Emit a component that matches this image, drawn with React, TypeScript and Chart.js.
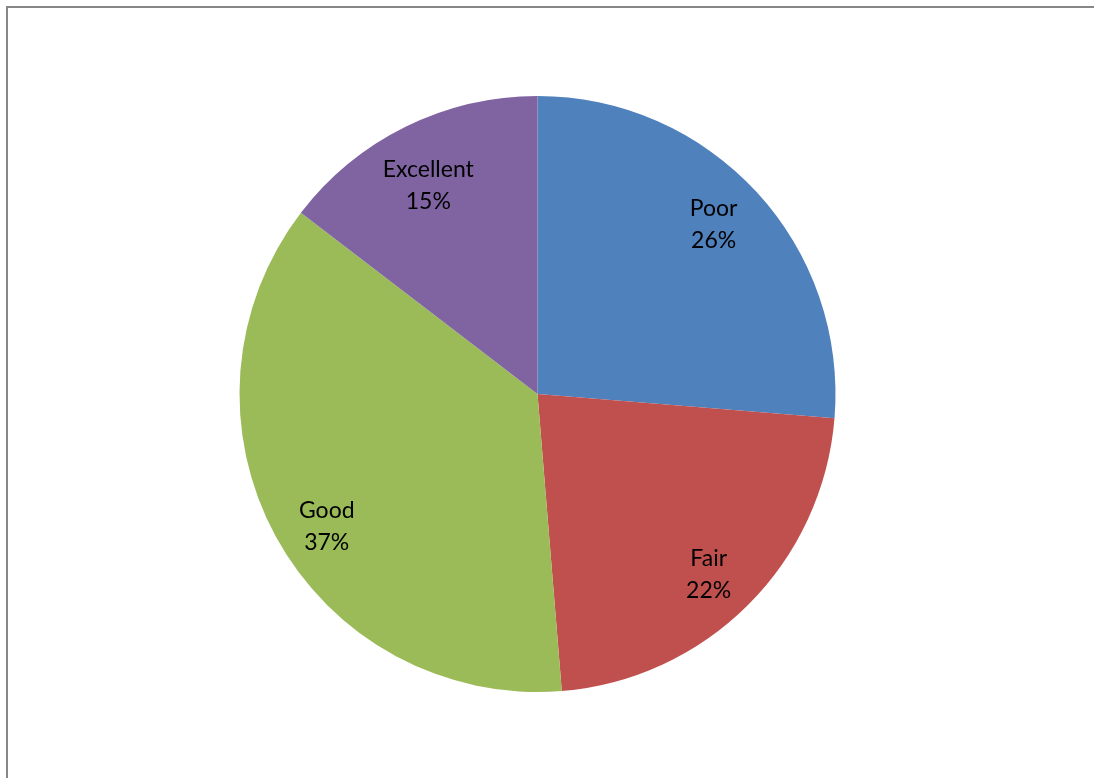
import React, { useEffect, useRef } from "react";
import { Chart, registerables } from "chart.js";

Chart.register(...registerables);

const categories = ["Poor", "Fair", "Good", "Excellent"];
const values = [26.3, 22.4, 36.7, 14.6];
const colors = ["#4F81BD", "#C0504D", "#9BBB59", "#8064A2"];
// label placement: fraction of radius and angle tweak (degrees) per slice
const labelDist = [0.821, 0.836, 0.836, 0.789];
const labelAngleShift = [-1.3, 1.6, -3.6, -1.4];

const labelPlugin = {
  id: "sliceLabels",
  afterDatasetsDraw(chart: any) {
    const ctx = chart.ctx;
    const meta = chart.getDatasetMeta(0);
    const total = values.reduce((a, b) => a + b, 0);
    ctx.save();
    ctx.fillStyle = "#000";
    ctx.font = "23px Lato";
    ctx.textAlign = "center";
    ctx.textBaseline = "middle";
    meta.data.forEach((arc: any, i: number) => {
      const { x, y, startAngle, endAngle, outerRadius } = arc.getProps(
        ["x", "y", "startAngle", "endAngle", "outerRadius"],
        true
      );
      const mid = (startAngle + endAngle) / 2 + (labelAngleShift[i] * Math.PI) / 180;
      const d = outerRadius * labelDist[i];
      const cx = x + Math.cos(mid) * d;
      const cy = y + Math.sin(mid) * d;
      const pct = Math.round((values[i] / total) * 100) + "%";
      ctx.fillText(categories[i], cx, cy - 16);
      ctx.fillText(pct, cx, cy + 16);
    });
    ctx.restore();
  },
};

export default function App() {
  const ref = useRef<HTMLCanvasElement>(null);
  useEffect(() => {
    const chart = new Chart(ref.current!, {
      type: "pie",
      data: {
        labels: categories,
        datasets: [
          {
            data: values,
            backgroundColor: colors,
            borderWidth: 0,
          },
        ],
      },
      options: {
        animation: false,
        responsive: false,
        layout: { padding: { left: 239, right: 258, top: 96, bottom: 86 } },
        plugins: { legend: { display: false }, tooltip: { enabled: false } },
      },
      plugins: [labelPlugin],
    });
    return () => chart.destroy();
  }, []);
  return (
    <div style={{ position: "fixed", left: 0, top: 0, width: 1094, height: 778, background: "#fff", overflow: "hidden" }}>
      <div
        style={{
          position: "absolute",
          left: 6,
          top: 6,
          width: 1200,
          height: 900,
          borderLeft: "2px solid #878787",
          borderTop: "2px solid #878787",
        }}
      />
      <canvas ref={ref} width={1094} height={778} style={{ position: "absolute", left: 0, top: 0 }} />
    </div>
  );
}
